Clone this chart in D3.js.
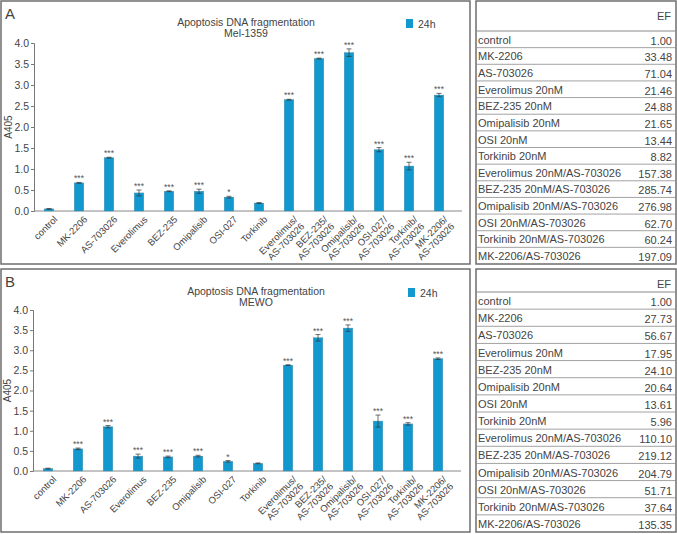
<!DOCTYPE html>
<html lang="en">
<head>
    <meta charset="UTF-8">
    <script src="https://d3js.org/d3.v7.min.js"></script>
    <title>Apoptosis DNA fragmentation</title>
    <style>
        body { margin: 0; background: white; }
        svg { font-family: "Liberation Sans", Arial, sans-serif; }
        .tick text { fill: #444; }
    </style>
</head>
<body>
    <div id="chart"></div>
    <script>
        /*------------------------- data -------------------------*/
        // bar categories (the "\n" marks a second label line)
        const categories = ["control", "MK-2206", "AS-703026", "Everolimus", "BEZ-235",
            "Omipalisib", "OSI-027", "Torkinib", "Everolimus/\nAS-703026", "BEZ-235/\nAS-703026",
            "Omipalisib/\nAS-703026", "OSI-027/\nAS-703026", "Torkinib/\nAS-703026", "MK-2206/\nAS-703026"];

        // panel A: Mel-1359
        const melValues = [0.05, 0.67, 1.27, 0.43, 0.47, 0.47, 0.33, 0.19, 2.65, 3.63, 3.77, 1.46, 1.07, 2.76];
        const melErrors = [0.01, 0.01, 0.01, 0.07, 0.01, 0.05, 0.02, 0.01, 0.01, 0.01, 0.09, 0.05, 0.09, 0.04];
        const melStars = ["", "***", "***", "***", "***", "***", "*", "", "***", "***", "***", "***", "***", "***"];

        // panel B: MEWO
        const mewoValues = [0.06, 0.55, 1.10, 0.37, 0.35, 0.37, 0.24, 0.19, 2.63, 3.31, 3.55, 1.24, 1.17, 2.79];
        const mewoErrors = [0.01, 0.02, 0.03, 0.05, 0.02, 0.02, 0.02, 0.01, 0.01, 0.08, 0.08, 0.15, 0.03, 0.02];
        const mewoStars = ["", "***", "***", "***", "***", "***", "*", "", "***", "***", "***", "***", "***", "***"];

        const yTicks = [0, 0.5, 1, 1.5, 2, 2.5, 3, 3.5, 4];

        // EF tables
        const tableRows = ["control", "MK-2206", "AS-703026", "Everolimus 20nM", "BEZ-235 20nM",
            "Omipalisib 20nM", "OSI 20nM", "Torkinib 20nM", "Everolimus 20nM/AS-703026",
            "BEZ-235 20nM/AS-703026", "Omipalisib 20nM/AS-703026", "OSI 20nM/AS-703026",
            "Torkinib 20nM/AS-703026", "MK-2206/AS-703026"];
        const melEF = ["1.00", "33.48", "71.04", "21.46", "24.88", "21.65", "13.44", "8.82",
            "157.38", "285.74", "276.98", "62.70", "60.24", "197.09"];
        const mewoEF = ["1.00", "27.73", "56.67", "17.95", "24.10", "20.64", "13.61", "5.96",
            "110.10", "219.12", "204.79", "51.71", "37.64", "135.35"];

        /*------------------------- setup ------------------------*/
        const W = 677, H = 534;
        const barColor = "#1198cf";
        const textColor = "#444";
        const borderColor = "#6e6e6e";

        const svg = d3.select("#chart").append("svg")
            .attr("width", W)
            .attr("height", H);

        /*------------------------ bar panel ---------------------*/
        function drawPanel(p) {
            const g = svg.append("g");

            // frame
            g.append("rect")
                .attr("x", p.box[0]).attr("y", p.box[1])
                .attr("width", p.box[2]).attr("height", p.box[3])
                .attr("fill", "none").attr("stroke", borderColor).attr("stroke-width", 1.5);

            // panel letter
            g.append("text").attr("x", p.box[0] + 4).attr("y", p.box[1] + 18)
                .attr("font-size", 15).attr("fill", textColor).text(p.letter);

            // title
            g.append("text").attr("x", p.titleX).attr("y", p.titleY)
                .attr("text-anchor", "middle").attr("font-size", 10.5).attr("fill", textColor)
                .text("Apoptosis DNA fragmentation");
            g.append("text").attr("x", p.titleX).attr("y", p.titleY + 11)
                .attr("text-anchor", "middle").attr("font-size", 10.5).attr("fill", textColor)
                .text(p.cell);

            // legend
            g.append("rect").attr("x", p.legend[0]).attr("y", p.legend[1])
                .attr("width", 7).attr("height", 9).attr("fill", barColor);
            g.append("text").attr("x", p.legend[0] + 12).attr("y", p.legend[1] + 8.5)
                .attr("font-size", 10.5).attr("fill", textColor).text("24h");

            const x = d3.scaleBand()
                .domain(categories)
                .range([p.left, p.left + 420])
                .paddingInner(0.68)
                .paddingOuter(0.34);

            const y = d3.scaleLinear()
                .domain([0, 4])
                .range([p.bottom, p.top]);

            // y axis
            const yAxis = g.append("g")
                .attr("transform", `translate(${p.left},0)`)
                .call(d3.axisLeft(y).tickValues(yTicks).tickFormat(d3.format(".1f")).tickSize(3).tickPadding(2));
            yAxis.selectAll("text").attr("font-size", 10.5).attr("fill", textColor);
            yAxis.selectAll("line, path").attr("stroke", "#777");

            g.append("text")
                .attr("transform", `translate(${p.left - 22},${(p.top + p.bottom) / 2}) rotate(-90)`)
                .attr("text-anchor", "middle").attr("font-size", 10).attr("fill", textColor)
                .text("A405");

            // x axis line
            g.append("line")
                .attr("x1", p.left).attr("x2", p.left + 428)
                .attr("y1", p.bottom).attr("y2", p.bottom)
                .attr("stroke", "#888").attr("stroke-width", 1);

            // bars
            g.selectAll(".bar")
                .data(p.values)
                .enter()
                .append("rect")
                .attr("x", (d, i) => x(categories[i]))
                .attr("y", d => y(d))
                .attr("width", x.bandwidth())
                .attr("height", d => p.bottom - y(d))
                .attr("fill", barColor)
                .attr("stroke", "#4f8fa8")
                .attr("stroke-width", 0.4);

            // error bars
            const err = g.selectAll(".err")
                .data(p.values)
                .enter()
                .append("g")
                .attr("stroke", "#333")
                .attr("stroke-width", 0.7);
            err.append("line")
                .attr("x1", (d, i) => x(categories[i]) + x.bandwidth() / 2)
                .attr("x2", (d, i) => x(categories[i]) + x.bandwidth() / 2)
                .attr("y1", (d, i) => y(d - p.errors[i]))
                .attr("y2", (d, i) => y(d + p.errors[i]));
            ["-", "+"].forEach(s => {
                err.append("line")
                    .attr("x1", (d, i) => x(categories[i]) + x.bandwidth() / 2 - 2.5)
                    .attr("x2", (d, i) => x(categories[i]) + x.bandwidth() / 2 + 2.5)
                    .attr("y1", (d, i) => y(s == "+" ? d + p.errors[i] : d - p.errors[i]))
                    .attr("y2", (d, i) => y(s == "+" ? d + p.errors[i] : d - p.errors[i]));
            });

            // significance stars
            g.selectAll(".star")
                .data(p.values)
                .enter()
                .append("text")
                .attr("x", (d, i) => x(categories[i]) + x.bandwidth() / 2)
                .attr("y", (d, i) => y(d + p.errors[i]) - 1)
                .attr("text-anchor", "middle")
                .attr("font-size", 8.5)
                .attr("fill", "#555")
                .text((d, i) => p.stars[i]);

            // rotated category labels
            const labels = g.selectAll(".xlab")
                .data(categories)
                .enter()
                .append("text")
                .attr("transform", d => `translate(${x(d) + x.bandwidth() / 2 + 4},${p.bottom + 4}) rotate(-45)`)
                .attr("text-anchor", "end")
                .attr("font-size", 9.5)
                .attr("fill", textColor);
            labels.selectAll("tspan")
                .data(d => d.split("\n"))
                .enter()
                .append("tspan")
                .attr("x", 0)
                .attr("dy", (d, i) => i == 0 ? "0.75em" : "1.05em")
                .text(d => d);
        }

        /*-------------------------- table -----------------------*/
        function drawTable(t) {
            const g = svg.append("g");
            const [x0, y0, w, h] = t.box;

            g.append("rect")
                .attr("x", x0).attr("y", y0).attr("width", w).attr("height", h)
                .attr("fill", "none").attr("stroke", borderColor).attr("stroke-width", 1.5);

            g.append("text").attr("x", x0 + w - 5).attr("y", y0 + 19)
                .attr("text-anchor", "end").attr("font-size", 11).attr("fill", textColor)
                .text("EF");

            const rowY = d3.scaleBand()
                .domain(tableRows)
                .range([y0 + t.header, y0 + h]);

            g.selectAll(".rowline")
                .data(tableRows)
                .enter()
                .append("line")
                .attr("x1", x0).attr("x2", x0 + w)
                .attr("y1", d => rowY(d)).attr("y2", d => rowY(d))
                .attr("stroke", "#8a8a8a")
                .attr("stroke-width", (d, i) => i == 0 ? 1.2 : 0.8);

            g.selectAll(".rowlab")
                .data(tableRows)
                .enter()
                .append("text")
                .attr("x", x0 + 2)
                .attr("y", d => rowY(d) + rowY.bandwidth() - 4)
                .attr("font-size", 11)
                .attr("fill", textColor)
                .text(d => d);

            g.selectAll(".rowval")
                .data(t.values)
                .enter()
                .append("text")
                .attr("x", x0 + w - 4)
                .attr("y", (d, i) => rowY(tableRows[i]) + rowY.bandwidth() - 3)
                .attr("text-anchor", "end")
                .attr("font-size", 11)
                .attr("fill", textColor)
                .text(d => d);
        }

        drawPanel({
            letter: "A", cell: "Mel-1359",
            box: [1, 1, 469, 263],
            left: 34, top: 43, bottom: 211,
            titleX: 246, titleY: 26,
            legend: [406, 19],
            values: melValues, errors: melErrors, stars: melStars
        });

        drawPanel({
            letter: "B", cell: "MEWO",
            box: [1, 269, 469, 263],
            left: 33, top: 310, bottom: 471,
            titleX: 256, titleY: 295,
            legend: [408, 288],
            values: mewoValues, errors: mewoErrors, stars: mewoStars
        });

        drawTable({ box: [476, 1, 200, 263], header: 30, values: melEF });
        drawTable({ box: [476, 269, 200, 263], header: 23, values: mewoEF });
    </script>
</body>
</html>
